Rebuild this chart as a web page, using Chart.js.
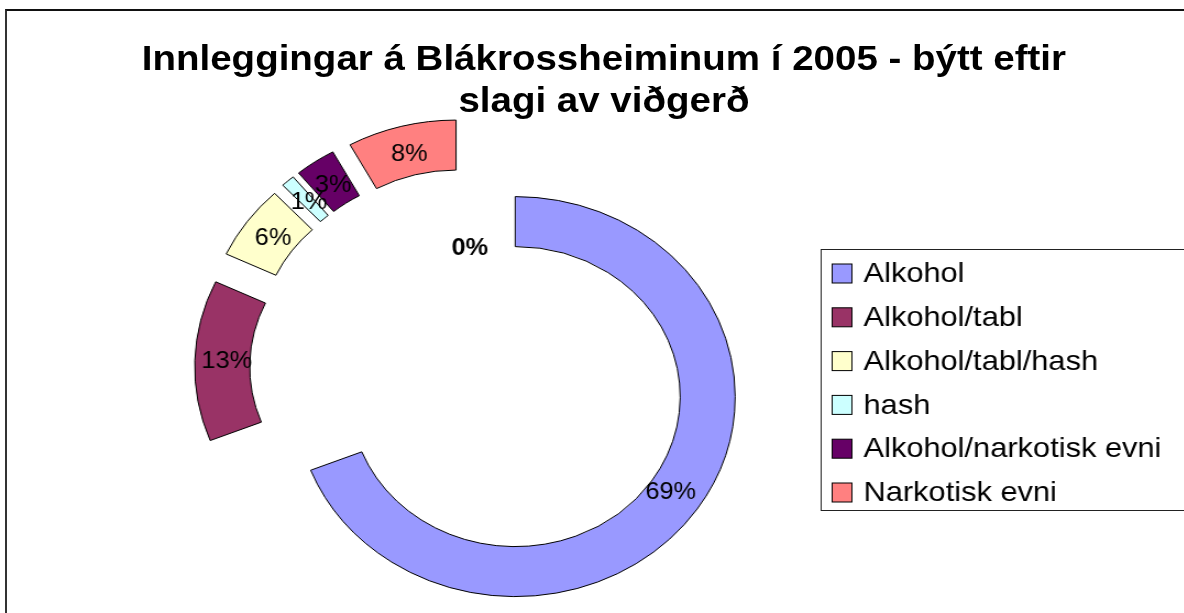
<!DOCTYPE html>
<html>
<head>
<meta charset="utf-8">
<script src="https://cdn.jsdelivr.net/npm/chart.js@4/dist/chart.umd.min.js"></script>
<style>
  html, body { margin: 0; padding: 0; background: #fff; }
  .frame {
    position: absolute; left: 5px; top: 9px; width: 1200px; height: 620px;
    border-top: 2px solid #111; border-left: 2px solid #333;
  }
  .wrap {
    position: absolute; left: 0; top: 0; width: 1076px; height: 613px;
    transform: scaleX(1.1); transform-origin: 0 0;
  }
  .title {
    position: absolute; left: 0; top: 37px; width: 1098px;
    text-align: center; font: bold 35px "Liberation Sans", Arial, sans-serif;
    line-height: 42px; color: #000;
  }
  canvas { position: absolute; left: 0; top: 0; }
</style>
</head>
<body>
<div class="frame"></div>
<div class="wrap">
  <canvas id="pieChart" width="1076" height="613"></canvas>
  <div class="title">Innleggingar á Blákrossheiminum í 2005 - býtt eftir<br>slagi av viðgerð</div>
</div>
<script>
// data
var categories = ["Alkohol", "Alkohol/tabl", "Alkohol/tabl/hash", "hash", "Alkohol/narkotisk evni", "Narkotisk evni", ""];
var shares = [69, 13, 6, 1, 3, 8, 0];
var colors = ["#9999FF", "#993366", "#FFFFCC", "#CCFFFF", "#660066", "#FF8080", "#FFFFFF"];

var EXPLODE = 50;

// Exploded slices: draw each arc moved outward along its mid angle
var explodePlugin = {
  id: "explode",
  beforeDatasetDraw: function (chart, args) {
    var ctx = chart.ctx;
    args.meta.data.forEach(function (arc) {
      var mid = (arc.startAngle + arc.endAngle) / 2;
      ctx.save();
      ctx.translate(Math.cos(mid) * EXPLODE, Math.sin(mid) * EXPLODE);
      arc.draw(ctx);
      ctx.restore();
    });
    return false;
  },
};

// Percent labels
var labelPlugin = {
  id: "sliceLabels",
  afterDatasetsDraw: function (chart) {
    var ctx = chart.ctx;
    var meta = chart.getDatasetMeta(0);
    var values = chart.data.datasets[0].data;
    var total = values.reduce(function (a, b) { return a + b; }, 0);
    ctx.save();
    ctx.fillStyle = "#000";
    ctx.textAlign = "center";
    ctx.textBaseline = "middle";
    meta.data.forEach(function (arc, i) {
      var mid = (arc.startAngle + arc.endAngle) / 2;
      var txt = Math.round((values[i] / total) * 100) + "%";
      var r;
      if (values[i] === 0) {
        ctx.font = "bold 23px 'Liberation Sans', Arial, sans-serif";
        r = arc.innerRadius * 0.8;
      } else {
        ctx.font = "23px 'Liberation Sans', Arial, sans-serif";
        r = EXPLODE + arc.innerRadius + (arc.outerRadius - arc.innerRadius) * 0.42;
      }
      ctx.fillText(txt, arc.x + Math.cos(mid) * r, arc.y + Math.sin(mid) * r);
    });
    ctx.restore();
  },
};

// Boxed legend on the right
var legendPlugin = {
  id: "boxLegend",
  afterDraw: function (chart) {
    var ctx = chart.ctx;
    var ds = chart.data.datasets[0];
    ctx.save();
    ctx.strokeStyle = "#222";
    ctx.lineWidth = 1;
    ctx.strokeRect(746.5, 249.5, 400, 261);
    ctx.font = "28px 'Liberation Sans', Arial, sans-serif";
    ctx.textBaseline = "middle";
    var row = 0;
    chart.data.labels.forEach(function (name, i) {
      if (!name) return;
      var y = 273.5 + row * 43.8;
      ctx.fillStyle = ds.backgroundColor[i];
      ctx.fillRect(756.5, y - 9.5, 18, 19);
      ctx.strokeStyle = "#000";
      ctx.strokeRect(756.5, y - 9.5, 18, 19);
      ctx.fillStyle = "#000";
      ctx.fillText(name, 785, y + 1);
      row++;
    });
    ctx.restore();
  },
};

var ctx = document.getElementById("pieChart").getContext("2d");
var pieChart = new Chart(ctx, {
  type: "doughnut",
  data: {
    labels: categories,
    datasets: [
      {
        data: shares,
        backgroundColor: colors,
        borderColor: "#000",
        borderWidth: 1,
      },
    ],
  },
  options: {
    responsive: false,
    animation: false,
    events: [],
    radius: 200,
    cutout: "75%",
    layout: {
      padding: { left: 0, right: 222, top: 124, bottom: 0 },
    },
    plugins: {
      legend: { display: false },
      title: { display: false },
      tooltip: { enabled: false },
    },
  },
  plugins: [explodePlugin, labelPlugin, legendPlugin],
});
</script>
</body>
</html>
